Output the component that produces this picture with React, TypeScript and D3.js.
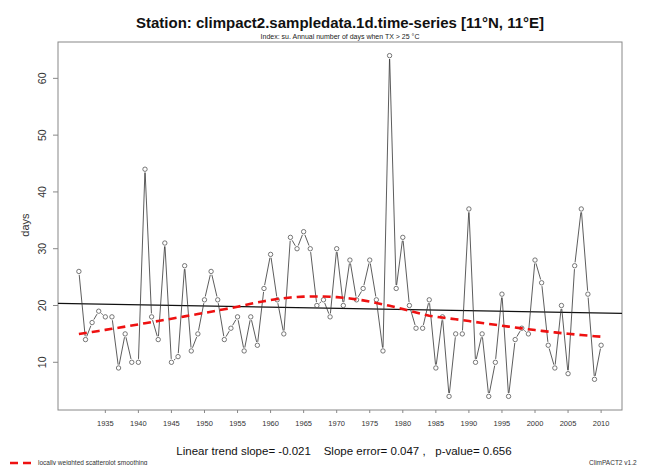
import React from 'react';
import * as d3 from 'd3';

// annual number of summer days (TX > 25 C), 1931 - 2010
const startYear = 1931;
const summerDays = [
    26, 14, 17, 19, 18, 18, 9, 15, 10, 10,
    44, 18, 14, 31, 10, 11, 27, 12, 15, 21,
    26, 21, 14, 16, 18, 12, 18, 13, 23, 29,
    21, 15, 32, 30, 33, 30, 20, 21, 18, 30,
    20, 28, 21, 23, 28, 21, 12, 64, 23, 32,
    20, 16, 16, 21, 9, 18, 4, 15, 15, 37,
    10, 15, 4, 10, 22, 4, 14, 16, 15, 28,
    24, 13, 9, 20, 8, 27, 37, 22, 7, 13
];
const years = summerDays.map((_, i) => startYear + i);
const xTicks = [1935, 1940, 1945, 1950, 1955, 1960, 1965, 1970, 1975, 1980, 1985, 1990, 1995, 2000, 2005, 2010];
const yTicks = [10, 20, 30, 40, 50, 60];

const title = 'Station: climpact2.sampledata.1d.time-series [11\u00B0N, 11\u00B0E]';
const subtitle = 'Index: su. Annual number of days when TX > 25 \u00B0C';
const trendText = 'Linear trend slope= -0.021    Slope error= 0.047 ,   p-value= 0.656';
const legendText = 'locally weighted scatterplot smoothing';
const versionText = 'ClimPACT2 v1.2';

const width = 659;
const height = 465;
const box = { left: 58, right: 622, top: 42, bottom: 410 };
const font = '"Liberation Sans", Arial, Helvetica, sans-serif';

// R style axis extension (4%)
function padded(ext: [number, number]): [number, number] {
    const d = (ext[1] - ext[0]) * 0.04;
    return [ext[0] - d, ext[1] + d];
}

// port of R's lowess (f = 2/3, iter = 3)
function lowess(xs: number[], ys: number[], f = 2 / 3, iter = 3): number[] {
    const n = xs.length;
    const ns = Math.max(Math.min(Math.floor(f * n + 1e-7), n), 2);
    const range = xs[n - 1] - xs[0];
    let rw = xs.map(() => 1);
    const fit = xs.map(() => 0);
    for (let it = 0; it <= iter; it++) {
        for (let i = 0; i < n; i++) {
            const d = xs.map(x => Math.abs(x - xs[i]));
            const h = [...d].sort((a, b) => a - b)[ns - 1];
            const w = d.map((di, j) => {
                if (di > 0.999 * h) return 0;
                const base = di <= 0.001 * h ? 1 : Math.pow(1 - Math.pow(di / h, 3), 3);
                return base * rw[j];
            });
            const sw = d3.sum(w);
            if (sw <= 0) { fit[i] = ys[i]; continue; }
            let wn = w.map(v => v / sw);
            const a = d3.sum(wn.map((v, j) => v * xs[j]));
            const c = d3.sum(wn.map((v, j) => v * (xs[j] - a) ** 2));
            if (Math.sqrt(c) > 0.001 * range) {
                const b = (xs[i] - a) / c;
                wn = wn.map((v, j) => v * (b * (xs[j] - a) + 1));
            }
            fit[i] = d3.sum(wn.map((v, j) => v * ys[j]));
        }
        if (it === iter) break;
        const res = ys.map((y, i) => Math.abs(y - fit[i]));
        const cmad = 6 * (d3.median(res) as number);
        if (cmad < 1e-7 * (d3.mean(res) as number)) break;
        rw = res.map(r => r <= 0.001 * cmad ? 1 : r <= 0.999 * cmad ? (1 - (r / cmad) ** 2) ** 2 : 0);
    }
    return fit;
}

export default function App() {
    const x = d3.scaleLinear().domain(padded(d3.extent(years) as [number, number])).range([box.left, box.right]);
    const y = d3.scaleLinear().domain(padded(d3.extent(summerDays) as [number, number])).range([box.bottom, box.top]);

    // least squares trend
    const mx = d3.mean(years) as number;
    const my = d3.mean(summerDays) as number;
    const slope = d3.sum(years.map((yr, i) => (yr - mx) * (summerDays[i] - my))) / d3.sum(years.map(yr => (yr - mx) ** 2));
    const trendAt = (yr: number) => my + slope * (yr - mx);
    const [x0, x1] = x.domain();

    const smooth = lowess(years, summerDays);
    const smoothLine = d3.line<number>().x((_, i) => x(years[i])).y(v => y(v))(smooth) || '';

    const pts = years.map((yr, i) => [x(yr), y(summerDays[i])]);
    const gap = 3.4;
    const segs = pts.slice(1).map((p, i) => {
        const q = pts[i];
        const dx = p[0] - q[0], dy = p[1] - q[1];
        const len = Math.hypot(dx, dy);
        if (len <= 2 * gap) return null;
        const ux = dx / len, uy = dy / len;
        return <line key={i} x1={q[0] + ux * gap} y1={q[1] + uy * gap} x2={p[0] - ux * gap} y2={p[1] - uy * gap}
            stroke="#333" strokeWidth={0.8} />;
    });

    return (
        <svg width={width} height={height} style={{ position: 'absolute', left: 0, top: 0, background: '#fff' }}
            fontFamily={font}>
            <text x={340} y={28} textAnchor="middle" fontSize={15} fontWeight="bold" fill="#111">{title}</text>
            <text x={340} y={39} textAnchor="middle" fontSize={7} fill="#222">{subtitle}</text>

            <rect x={box.left} y={box.top} width={box.right - box.left} height={box.bottom - box.top}
                fill="none" stroke="#888" strokeWidth={1} />

            {yTicks.map(t => (
                <g key={t}>
                    <line x1={box.left - 5} x2={box.left} y1={y(t)} y2={y(t)} stroke="#888" />
                    <text transform={`translate(46,${y(t)}) rotate(-90)`} textAnchor="middle" fontSize={10.5} fill="#333">{t}</text>
                </g>
            ))}
            <text transform={`translate(29,225) rotate(-90)`} textAnchor="middle" fontSize={11} fill="#333">days</text>

            {xTicks.map(t => (
                <g key={t}>
                    <line x1={x(t)} x2={x(t)} y1={box.bottom} y2={box.bottom + 3} stroke="#888" />
                    <text x={x(t)} y={426} textAnchor="middle" fontSize={7.5} fill="#333">{t}</text>
                </g>
            ))}

            <line x1={x(x0)} x2={x(x1)} y1={y(trendAt(x0))} y2={y(trendAt(x1))} stroke="#111" strokeWidth={1.3} />

            {segs}
            {pts.map((p, i) => (
                <circle key={i} cx={p[0]} cy={p[1]} r={2.2} fill="none" stroke="#555" strokeWidth={0.8} />
            ))}

            <path d={smoothLine} fill="none" stroke="#ee1111" strokeWidth={2.6} strokeDasharray="8,5" />

            <text x={344} y={455} textAnchor="middle" fontSize={11.5} fill="#111" style={{ whiteSpace: 'pre' }}>{trendText}</text>

            <line x1={10} x2={34} y1={463} y2={463} stroke="#ee1111" strokeWidth={2.6} strokeDasharray="8,5" />
            <text x={38} y={465} fontSize={6.5} fill="#333">{legendText}</text>
            <text x={589} y={465} fontSize={6.5} fill="#333">{versionText}</text>
        </svg>
    );
}
